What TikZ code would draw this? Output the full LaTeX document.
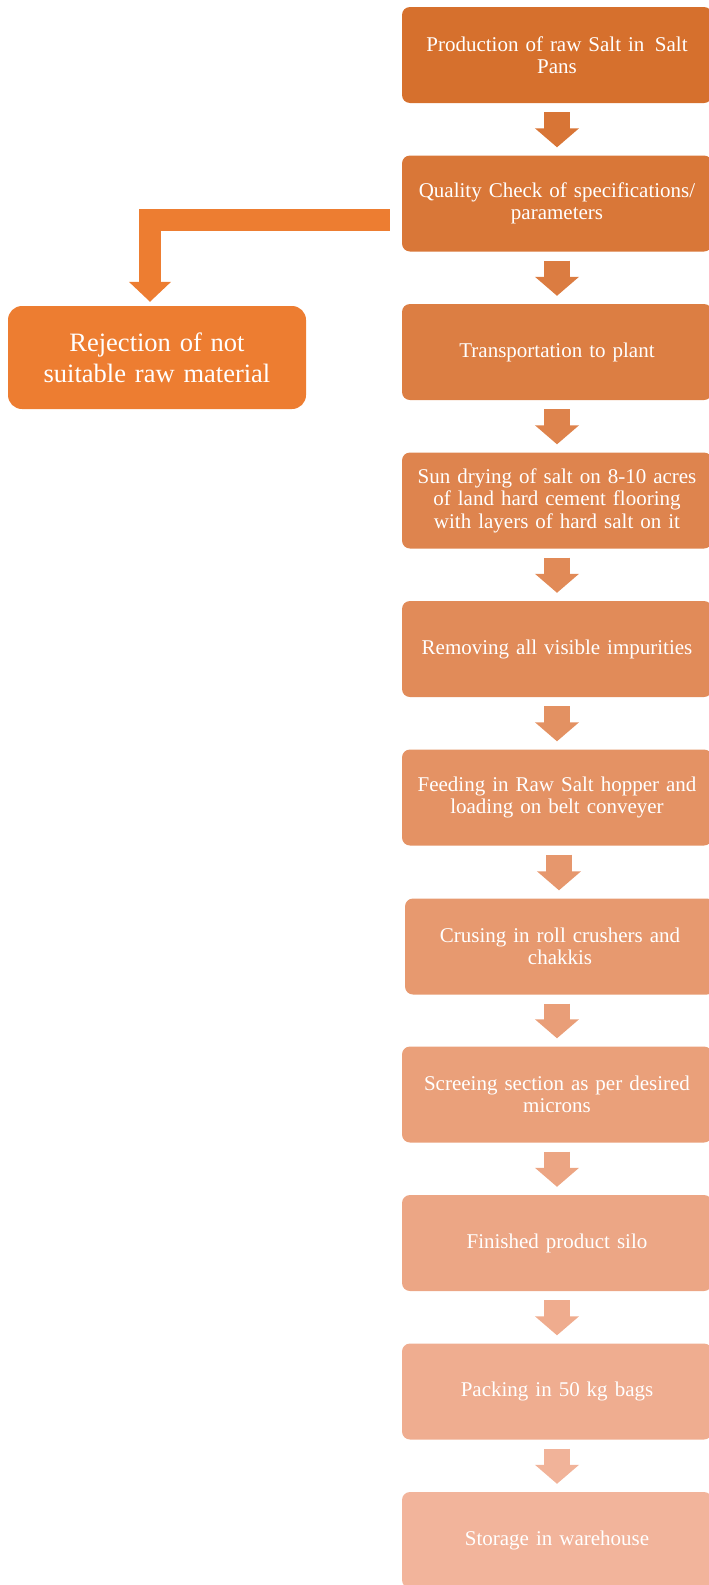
\documentclass[tikz,border=0pt]{standalone}
\usepackage{fontspec}
\setmainfont{Liberation Serif}
\usetikzlibrary{arrows.meta,calc}
\definecolor{saltdark}{RGB}{214,112,45}
\definecolor{saltlight}{RGB}{242,180,155}
\definecolor{rejorange}{RGB}{237,125,49}

\begin{document}
\begin{tikzpicture}[x=1pt,y=-1pt]

%
% Styles
%
\tikzstyle{stepbox} = [rectangle,rounded corners=8pt,minimum width=310pt,minimum height=96pt,text width=304pt,align=center,inner sep=0pt,text=white,font=\fontsize{21}{22.5}\selectfont]
\tikzstyle{rejbox} = [rectangle,rounded corners=14pt,minimum width=298pt,minimum height=103pt,text width=290pt,align=center,inner sep=0pt,text=white,fill=rejorange,font=\fontsize{26.5}{31}\selectfont]
\tikzstyle{blockarrow} = [line width=26pt,-{Triangle[length=19pt,width=43pt]},shorten <=9pt,shorten >=8pt]

\useasboundingbox (0,0) rectangle (709,1585);

\node[stepbox,fill=saltlight!0!saltdark]  (b1)  at (557,55)     {Production of raw Salt in\, Salt\\Pans};
\node[stepbox,fill=saltlight!10!saltdark] (b2)  at (557,203.5)  {Quality Check of specifications/\\parameters};
\node[stepbox,fill=saltlight!20!saltdark] (b3)  at (557,352)    {Transportation to plant};
\node[stepbox,fill=saltlight!30!saltdark] (b4)  at (557,500.5)  {Sun drying of salt on 8-10 acres\\of land hard cement flooring\\with layers of hard salt on it};
\node[stepbox,fill=saltlight!40!saltdark] (b5)  at (557,649)    {Removing all visible impurities};
\node[stepbox,fill=saltlight!50!saltdark] (b6)  at (557,797.5)  {Feeding in Raw Salt hopper and\\loading on belt conveyer};
\node[stepbox,fill=saltlight!60!saltdark] (b7)  at (560,946.5)  {Crusing in roll crushers and\\chakkis};
\node[stepbox,fill=saltlight!70!saltdark] (b8)  at (557,1094.5) {Screeing section as per desired\\microns};
\node[stepbox,fill=saltlight!80!saltdark] (b9)  at (557,1243)   {Finished product silo};
\node[stepbox,fill=saltlight!90!saltdark] (b10) at (557,1391.5) {Packing in 50 kg bags};
\node[stepbox,fill=saltlight]             (b11) at (557,1540)   {Storage in warehouse};

\node[rejbox] (rej) at (157,357.5) {Rejection of not\\suitable raw material};

\draw[blockarrow,draw=saltlight!8!saltdark]  (b1.south)  -- (b2.north);
\draw[blockarrow,draw=saltlight!18!saltdark] (b2.south)  -- (b3.north);
\draw[blockarrow,draw=saltlight!28!saltdark] (b3.south)  -- (b4.north);
\draw[blockarrow,draw=saltlight!38!saltdark] (b4.south)  -- (b5.north);
\draw[blockarrow,draw=saltlight!48!saltdark] (b5.south)  -- (b6.north);
\draw[blockarrow,draw=saltlight!58!saltdark] ($(b6.south)+(2,0)$) -- ($(b6.south |- b7.north)+(2,0)$);
\draw[blockarrow,draw=saltlight!68!saltdark] ($(b7.south)+(-3,0)$) -- (b8.north);
\draw[blockarrow,draw=saltlight!78!saltdark] (b8.south)  -- (b9.north);
\draw[blockarrow,draw=saltlight!88!saltdark] (b9.south)  -- (b10.north);
\draw[blockarrow,draw=saltlight!98!saltdark] (b10.south) -- (b11.north);

% rejected material
\draw[line width=22pt,draw=rejorange,-{Triangle[length=20pt,width=41pt]},shorten >=4pt]
  ($(b2.west)+(-12,16)$) -| ($(rej.north)+(-7,0)$);

\end{tikzpicture}
\end{document}
